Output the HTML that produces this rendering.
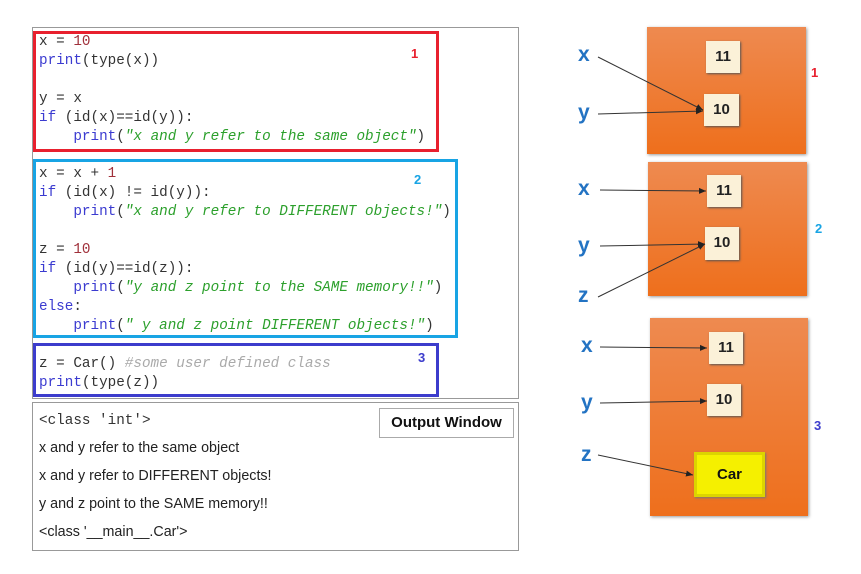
<!DOCTYPE html>
<html><head><meta charset="utf-8"><style>
body{margin:0;width:861px;height:574px;background:#fff;position:relative;overflow:hidden;font-family:"Liberation Sans",sans-serif}
.a{position:absolute;box-sizing:border-box}
.code{font-family:"Liberation Mono",monospace;font-size:14.3px;color:#333;white-space:pre;line-height:19px}
.k{color:#3b3bd0}.n{color:#a0303a}.s{color:#2ca02c;font-style:italic}.c{color:#aaa;font-style:italic}
.o{font-size:14.3px;color:#222}
.orange{background:linear-gradient(#ee8a50,#ee6f1c);box-shadow:1px 1px 3px #999}
.v{background:#fbf1d8;box-shadow:1px 1px 2px #555;font-weight:bold;font-size:15px;text-align:center;line-height:32px;color:#222}
.lbl{font-weight:bold;font-size:21px;color:#2373c3}
</style></head><body>
<div class="a" style="left:32px;top:27px;width:487px;height:372px;border:1px solid #999"></div>
<div class="a" style="left:32px;top:402px;width:487px;height:149px;border:1px solid #999"></div>
<div class="a" style="left:33px;top:31px;width:406px;height:121px;border:3px solid #e8202e"></div>
<div class="a" style="left:33px;top:159px;width:425px;height:179px;border:3px solid #18a4e4"></div>
<div class="a" style="left:33px;top:343px;width:406px;height:54px;border:3px solid #3c3ccc"></div>
<div class="a code" style="left:39px;top:33px">x = <span class="n">10</span>
<span class="k">print</span>(type(x))

y = x
<span class="k">if</span> (id(x)==id(y)):
    <span class="k">print</span>(<span class="s">"x and y refer to the same object"</span>)</div>
<div class="a code" style="left:39px;top:165px">x = x + <span class="n">1</span>
<span class="k">if</span> (id(x) != id(y)):
    <span class="k">print</span>(<span class="s">"x and y refer to DIFFERENT objects!"</span>)

z = <span class="n">10</span>
<span class="k">if</span> (id(y)==id(z)):
    <span class="k">print</span>(<span class="s">"y and z point to the SAME memory!!"</span>)
<span class="k">else</span>:
    <span class="k">print</span>(<span class="s">" y and z point DIFFERENT objects!"</span>)</div>
<div class="a code" style="left:39px;top:355px">z = Car() <span class="c">#some user defined class</span>
<span class="k">print</span>(type(z))</div>
<div class="a" style="left:411px;top:46px;color:#e8202e;font-size:13px;font-weight:bold">1</div>
<div class="a" style="left:414px;top:172px;color:#18a4e4;font-size:13px;font-weight:bold">2</div>
<div class="a" style="left:418px;top:350px;color:#3c3ccc;font-size:13px;font-weight:bold">3</div>
<div class="a code" style="left:39px;top:412px;color:#333">&lt;class 'int'&gt;</div>
<div class="a o" style="left:39px;top:440px">x and y refer to the same object</div>
<div class="a o" style="left:39px;top:468px">x and y refer to DIFFERENT objects!</div>
<div class="a o" style="left:39px;top:496px">y and z point to the SAME memory!!</div>
<div class="a o" style="left:39px;top:524px">&lt;class '__main__.Car'&gt;</div>
<div class="a" style="left:379px;top:408px;width:135px;height:30px;border:1px solid #aaa;font-weight:bold;font-size:15px;text-align:center;line-height:28px;color:#111">Output Window</div>

<div class="a orange" style="left:647px;top:27px;width:159px;height:127px"></div>
<div class="a orange" style="left:648px;top:162px;width:159px;height:134px"></div>
<div class="a orange" style="left:650px;top:318px;width:158px;height:198px"></div>
<div class="a v" style="left:706px;top:41px;width:34px;height:32px">11</div>
<div class="a v" style="left:704px;top:94px;width:35px;height:32px">10</div>
<div class="a v" style="left:707px;top:175px;width:34px;height:32px">11</div>
<div class="a v" style="left:705px;top:227px;width:34px;height:33px">10</div>
<div class="a v" style="left:709px;top:332px;width:34px;height:32px">11</div>
<div class="a v" style="left:707px;top:384px;width:34px;height:32px">10</div>
<div class="a" style="left:694px;top:452px;width:71px;height:45px;background:#f5f000;box-shadow:inset 0 0 0 3px #dcd400,1px 1px 2px #777;font-weight:bold;font-size:15px;text-align:center;line-height:45px;color:#111">Car</div>
<div class="a lbl" style="left:578px;top:43px">x</div>
<div class="a lbl" style="left:578px;top:101px">y</div>
<div class="a lbl" style="left:578px;top:177px">x</div>
<div class="a lbl" style="left:578px;top:234px">y</div>
<div class="a lbl" style="left:578px;top:284px">z</div>
<div class="a lbl" style="left:581px;top:334px">x</div>
<div class="a lbl" style="left:581px;top:391px">y</div>
<div class="a lbl" style="left:581px;top:443px">z</div>
<div class="a" style="left:811px;top:65px;color:#e8202e;font-weight:bold;font-size:13px">1</div>
<div class="a" style="left:815px;top:221px;color:#18a4e4;font-weight:bold;font-size:13px">2</div>
<div class="a" style="left:814px;top:418px;color:#3c3ccc;font-weight:bold;font-size:13px">3</div>
<svg class="a" style="left:0;top:0" width="861" height="574">
<defs><marker id="m" markerWidth="8" markerHeight="8" refX="7" refY="4" orient="auto" markerUnits="userSpaceOnUse"><path d="M0,1 L7,4 L0,7z" fill="#222"/></marker></defs>
<g stroke="#333" stroke-width="1" marker-end="url(#m)">
<line x1="598" y1="57" x2="703" y2="110"/>
<line x1="598" y1="114" x2="703" y2="111"/>
<line x1="600" y1="190" x2="706" y2="191"/>
<line x1="600" y1="246" x2="705" y2="244"/>
<line x1="598" y1="297" x2="705" y2="244"/>
<line x1="600" y1="347" x2="707" y2="348"/>
<line x1="600" y1="403" x2="707" y2="401"/>
<line x1="598" y1="455" x2="693" y2="475"/>
</g></svg>
</body></html>
